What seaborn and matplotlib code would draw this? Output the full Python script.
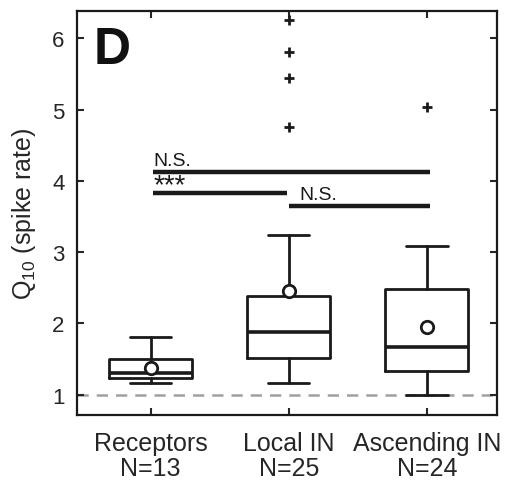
import numpy as np
import pandas as pd
import matplotlib
matplotlib.use("Agg")
import matplotlib.pyplot as plt
import seaborn as sns

# ---- data ----
groups = ["Receptors", "Local IN", "Ascending IN"]
n_cells = [13, 25, 24]
whisker_low = [1.16, 1.16, 1.00]
q1 = [1.24, 1.52, 1.33]
median = [1.31, 1.875, 1.665]
q3 = [1.50, 2.39, 2.48]
whisker_high = [1.81, 3.24, 3.09]
means = [1.37, 2.45, 1.945]
outliers = [[], [6.25, 5.81, 5.44, 4.76], [5.03]]
sig_labels = ["N.S.", "***", "N.S."]
sig_pairs = [(1, 3), (1, 2), (2, 3)]
sig_heights = [4.12, 3.825, 3.64]
yticks = [1, 2, 3, 4, 5, 6]

sns.set_style("ticks")
plt.rcParams["font.family"] = ["Liberation Sans", "DejaVu Sans"]
plt.rcParams["mathtext.fontset"] = "custom"
plt.rcParams["mathtext.rm"] = "Liberation Sans"

fig = plt.figure(figsize=(5.06, 4.85), dpi=100)
ax = fig.add_axes([0.152, 0.143, 0.830, 0.832])

positions = [1, 2, 3]
stats = []
for i in range(3):
    stats.append(dict(whislo=whisker_low[i], q1=q1[i], med=median[i], q3=q3[i],
                      whishi=whisker_high[i], fliers=[], label=groups[i]))
lw = 2.0
ax.bxp(stats, positions=positions, widths=0.6, showfliers=False,
       boxprops=dict(color="#1a1a1a", linewidth=lw),
       medianprops=dict(color="#1a1a1a", linewidth=lw + 0.6),
       whiskerprops=dict(color="#1a1a1a", linewidth=lw),
       capprops=dict(color="#1a1a1a", linewidth=lw), capwidths=0.3)

# reference line at 1
ax.axhline(1, color="#a0a0a0", lw=1.8, ls=(0, (4.5, 3.2)), zorder=0.5)

# means
mdf = pd.DataFrame({"x": positions, "y": means})
sns.scatterplot(data=mdf, x="x", y="y", ax=ax, marker="o", s=80,
                facecolor="white", edgecolor="#1a1a1a", linewidth=2, zorder=5)

# outliers
ox, oy = [], []
for i, vals in enumerate(outliers):
    for v in vals:
        ox.append(positions[i]); oy.append(v)
odf = pd.DataFrame({"x": ox, "y": oy})
sns.scatterplot(data=odf, x="x", y="y", ax=ax, marker="+", s=60,
                color="#1a1a1a", linewidth=2, zorder=5)

# significance bars
for (a, b), h, lab in zip(sig_pairs, sig_heights, sig_labels):
    x0 = a + 0.02 if a == 1 else a
    x1 = b + 0.02 if b == 3 else b - 0.01
    ax.plot([x0, x1], [h, h], color="#1a1a1a", lw=3.2, solid_capstyle="butt", zorder=4)
    tx = x0 + (0.0 if a == 1 else 0.08)
    if lab == "***":
        ax.text(tx, h - 0.07, lab, fontsize=20, ha="left", va="bottom",
                color="#1a1a1a")
    else:
        ax.text(tx, h + 0.05, lab, fontsize=14, ha="left", va="bottom", color="#1a1a1a")

ax.text(0.04, 0.965, "D", transform=ax.transAxes, fontsize=37, fontweight="bold",
        ha="left", va="top", color="#111111")

ax.set_xlim(0.466, 3.507)
ax.set_ylim(0.72, 6.38)
ax.set_yticks(yticks)
ax.set_yticklabels([str(t) for t in yticks])
ax.set_xticks(positions)
ax.set_xticklabels([f"{g}\nN={n}" for g, n in zip(groups, n_cells)], fontsize=18,
                   linespacing=1.05)
ax.set_xlabel("")
ax.set_ylabel(r"Q$_{10}$ (spike rate)", fontsize=18, labelpad=10)
ax.tick_params(axis="y", labelsize=16, direction="in", length=5, width=1.5,
               right=True, pad=9)
ax.tick_params(axis="x", direction="in", length=5, width=1.5, top=True, pad=12)
for s in ax.spines.values():
    s.set_visible(True)
    s.set_linewidth(1.6)
    s.set_color("#1a1a1a")

fig.savefig("out.png", dpi=100)
